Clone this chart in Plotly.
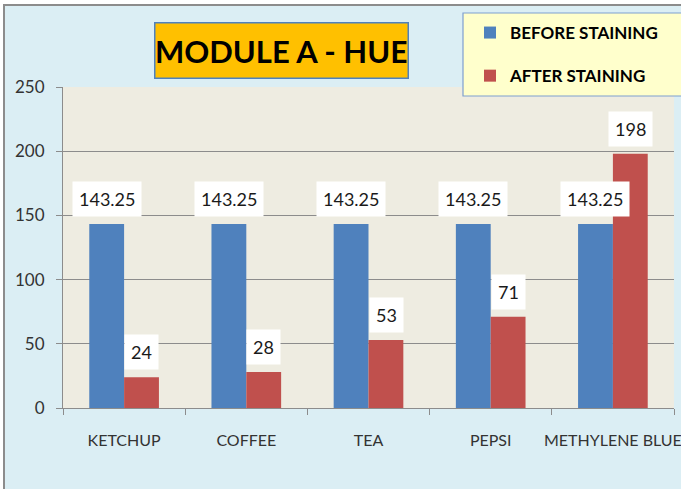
import plotly.graph_objects as go

categories = ["KETCHUP", "COFFEE", "TEA", "PEPSI", "METHYLENE BLUE"]
before_vals = [143.25, 143.25, 143.25, 143.25, 143.25]
after_vals = [24, 28, 53, 71, 198]
y_ticks = [0, 50, 100, 150, 200, 250]

FONT = "Lato, Liberation Sans, sans-serif"
BLUE = "#4F81BD"
RED = "#C0504D"

# plot area pixel geometry (for paper-coordinate conversion)
L, R, T, B = 63, 674, 87, 408
W, H = 681, 489
pw, ph = R - L, B - T

def px(x):
    return (x - L) / pw

def py(y):
    return (B - y) / ph

fig = go.Figure()
fig.add_trace(go.Bar(name="BEFORE STAINING", x=categories, y=before_vals,
                     marker_color=BLUE, marker_line_width=0, legendgroup="a"))
fig.add_trace(go.Bar(name="AFTER STAINING", x=categories, y=after_vals,
                     marker_color=RED, marker_line_width=0, legendgroup="b"))

label_font = dict(family=FONT, size=18, color="#1a1a1a")
annotations = []
for c, v in zip(categories, before_vals):
    annotations.append(dict(x=c, y=v, xref="x", yref="y", text=f"{v:g}", showarrow=False,
                            xshift=-17.5, yshift=7, yanchor="bottom", bgcolor="white",
                            borderpad=6, font=label_font))
for c, v in zip(categories, after_vals):
    annotations.append(dict(x=c, y=v, xref="x", yref="y", text=f"{v:g}", showarrow=False,
                            xshift=17.5, yshift=7, yanchor="bottom", bgcolor="white",
                            borderpad=6, font=label_font))

annotations.append(dict(x=px(281.5), y=py(50), xref="paper", yref="paper",
                        text="<b>MODULE A - HUE</b>", showarrow=False,
                        xanchor="center", yanchor="middle",
                        width=250, height=52, borderpad=1,
                        bgcolor="#FFC000", bordercolor=BLUE, borderwidth=1.5,
                        font=dict(family=FONT, size=31, color="black")))

shapes = [
    # white strips outside the chart border
    dict(type="rect", xref="paper", yref="paper",
         x0=px(-20), x1=px(3), y0=py(520), y1=py(-20),
         line=dict(width=0), fillcolor="white", layer="below"),
    dict(type="rect", xref="paper", yref="paper",
         x0=px(-20), x1=px(720), y0=py(4), y1=py(-20),
         line=dict(width=0), fillcolor="white", layer="below"),
    # outer chart border
    dict(type="rect", xref="paper", yref="paper",
         x0=px(4), x1=px(700), y0=py(500), y1=py(5),
         line=dict(color="#8C8C8C", width=2), fillcolor="rgba(0,0,0,0)", layer="below"),
    # legend box
    dict(type="rect", xref="paper", yref="paper",
         x0=px(463), x1=px(700), y0=py(96), y1=py(13),
         line=dict(color="#7F9FCF", width=1.2), fillcolor="#FFFFCC", layer="below"),
]

fig.update_layout(
    width=W, height=H,
    margin=dict(l=L, r=W - R, t=T, b=H - B, pad=0, autoexpand=False),
    paper_bgcolor="#DBEEF4",
    plot_bgcolor="#EEECE1",
    barmode="group",
    bargap=0.43,
    bargroupgap=0,
    showlegend=True,
    legend=dict(x=px(470), y=py(15), xanchor="left", yanchor="top",
                bgcolor="rgba(0,0,0,0)", borderwidth=0,
                font=dict(family=FONT, size=17, color="black", weight="bold"),
                tracegroupgap=18, traceorder="grouped"),
    annotations=annotations,
    shapes=shapes,
    xaxis=dict(type="category", showline=True, linecolor="#8C8C8C", linewidth=1,
               ticks="outside", tickson="boundaries", ticklen=6, tickcolor="#8C8C8C",
               ticklabelstandoff=18, showgrid=False, tickangle=0, automargin=False,
               tickfont=dict(family=FONT, size=16, color="#333333")),
    yaxis=dict(range=[0, 250], tickvals=y_ticks, showline=True, linecolor="#8C8C8C",
               linewidth=1, ticks="outside", ticklen=6, tickcolor="#8C8C8C",
               showgrid=True, gridcolor="#8C8C8C", gridwidth=1, zeroline=False,
               ticklabelstandoff=8, automargin=False,
               tickfont=dict(family=FONT, size=17, color="#333333")),
)

fig.write_html("out.html", config={"displayModeBar": False},
               post_script="document.body.style.margin='0';")
